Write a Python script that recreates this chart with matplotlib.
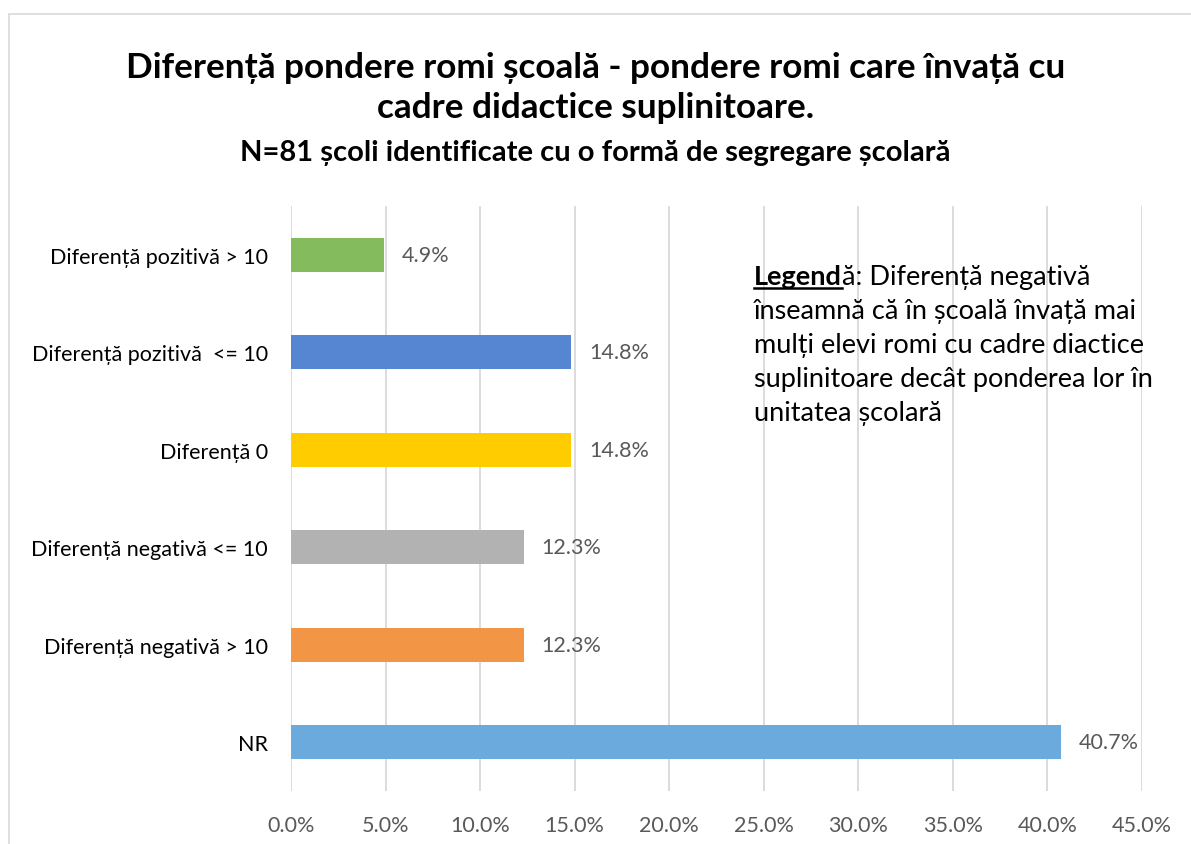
import matplotlib.pyplot as plt
from matplotlib.patches import Rectangle
from matplotlib.lines import Line2D

categories = ["Diferență pozitivă > 10", "Diferență pozitivă  <= 10", "Diferență 0",
              "Diferență negativă <= 10", "Diferență negativă > 10", "NR"]
values = [4.9, 14.8, 14.8, 12.3, 12.3, 40.7]
colors = ["#84BB5C", "#5686D2", "#FFCC00", "#B2B2B2", "#F29545", "#6AAADD"]
xticks = [0, 5, 10, 15, 20, 25, 30, 35, 40, 45]

note_lines = ["înseamnă că în școală învață mai", "mulți elevi romi cu cadre diactice",
              "suplinitoare decât ponderea lor în", "unitatea școlară"]

plt.rcParams["font.family"] = ["Lato", "DejaVu Sans"]

W, H = 1191, 845
fig = plt.figure(figsize=(11.91, 8.45), dpi=100)
fig.patches.append(Rectangle((9 / W, -0.1), 1.2, 1 - 15 / H + 0.1, transform=fig.transFigure,
                             fill=False, edgecolor="#D9D9D9", linewidth=1.2))

ax = fig.add_axes([291 / W, 1 - 792 / H, (1142 - 291) / W, (792 - 207) / H])
pos = list(range(len(categories)))
ax.barh(pos, values, height=0.35, color=colors, zorder=2)
ax.set_ylim(5.5, -0.5)
ax.set_xlim(0, 45)
ax.set_xticks(xticks)
ax.set_xticklabels(["{:.1f}%".format(v) for v in xticks])
ax.set_yticks(pos)
ax.set_yticklabels(categories)
ax.tick_params(axis="x", length=0, labelsize=15.5, labelcolor="#595959", pad=17)
ax.tick_params(axis="y", length=0, labelsize=15.5, labelcolor="#000000", pad=16.5)
ax.grid(axis="x", color="#D9D9D9", linewidth=1.3, zorder=0)
for s in ax.spines.values():
    s.set_visible(False)

for p, v in zip(pos, values):
    ax.annotate("{:.1f}%".format(v), xy=(v, p), xytext=(13, 0), textcoords="offset points",
                ha="left", va="center", fontsize=15.5, color="#595959")

fig.text(0.5, 1 - 68 / H, "Diferență pondere romi școală - pondere romi care învață cu",
         ha="center", va="center", fontsize=25.3, fontweight="bold")
fig.text(0.5, 1 - 108 / H, "cadre didactice suplinitoare.",
         ha="center", va="center", fontsize=25.3, fontweight="bold")
fig.text(0.5, 1 - 153 / H, "N=81 școli identificate cu o formă de segregare școlară",
         ha="center", va="center", fontsize=21, fontweight="bold")

# note block
x0 = 754 / W
t = fig.text(x0, 1 - 285 / H, "Legend", fontsize=19.5, fontweight="bold", va="baseline")
fig.canvas.draw()
bb = t.get_window_extent()
fig.text(bb.x1 / W, 1 - 285 / H, "ă: Diferență negativă", fontsize=19.5, va="baseline")
fig.add_artist(Line2D([bb.x0 / W, bb.x1 / W], [1 - 289 / H] * 2, transform=fig.transFigure,
                      color="black", linewidth=1.8))
for i, line in enumerate(note_lines):
    fig.text(x0, 1 - (285 + 34 * (i + 1)) / H, line, fontsize=19.5, va="baseline")

fig.savefig("out.png", dpi=100)
